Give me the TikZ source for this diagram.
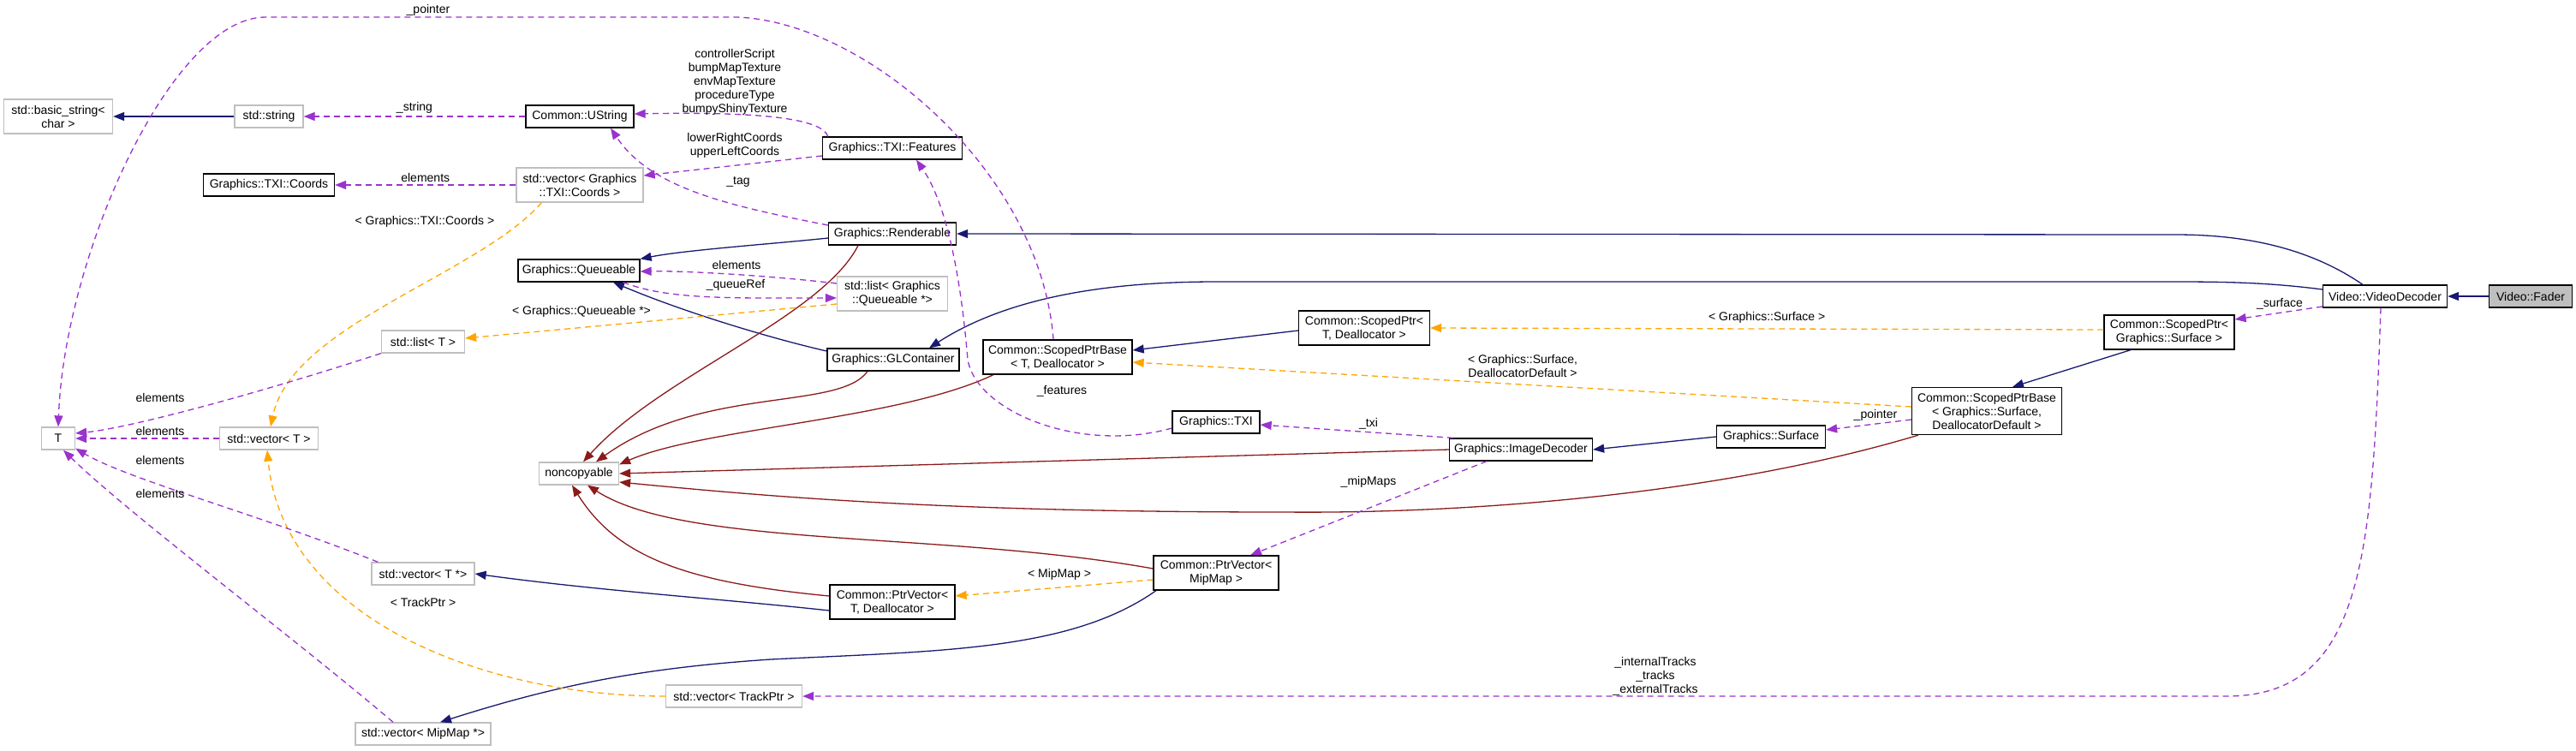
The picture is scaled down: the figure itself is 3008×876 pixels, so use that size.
\documentclass[tikz,border=0pt]{standalone}
\usepackage{fontspec}
\setmainfont{Liberation Sans}
\usetikzlibrary{arrows.meta,calc}
\definecolor{inhc}{HTML}{191970}
\definecolor{ncc}{HTML}{8B1A1A}
\definecolor{tmplc}{HTML}{FFA500}
\definecolor{usec}{HTML}{9A32CD}
\definecolor{grayb}{HTML}{BFBFBF}
\begin{document}
\begin{tikzpicture}[x=1pt,y=-1pt,
  every node/.style={font=\fontsize{14}{16}\selectfont},
  cls/.style={draw=black,line width=1.3pt,fill=white,inner sep=0pt,align=center,minimum height=26pt},
  ext/.style={draw=grayb,line width=1.3pt,fill=white,inner sep=0pt,align=center,minimum height=26pt},
  lbl/.style={inner sep=0pt,align=center},
  tip/.style={-{Triangle[length=13pt,width=10pt]}},
  inh/.style={tip,draw=inhc,line width=1.3pt},
  ncl/.style={tip,draw=ncc,line width=1.3pt},
  tmpl/.style={tip,draw=tmplc,line width=1.3pt,dash pattern=on 7pt off 5pt},
  use/.style={tip,draw=usec,line width=1.3pt,dash pattern=on 7pt off 5pt}]
\useasboundingbox (0,0) rectangle (3008,876);
% nodes
\node[ext,minimum width=127pt,minimum height=40pt] (bs) at (68,136) {std::basic\_string\textless\\char \textgreater};
\node[ext,minimum width=80pt] (str) at (314,136) {std::string};
\node[cls,minimum width=126pt] (us) at (677,136) {Common::UString};
\node[cls,minimum width=153pt] (co) at (314,216) {Graphics::TXI::Coords};
\node[ext,minimum width=148pt,minimum height=40pt] (vco) at (677,216) {std::vector\textless{} Graphics\\::TXI::Coords \textgreater};
\node[cls,minimum width=163pt] (feat) at (1042,173) {Graphics::TXI::Features};
\node[cls,minimum width=149pt] (ren) at (1042,273) {Graphics::Renderable};
\node[cls,minimum width=142pt] (q) at (676,316) {Graphics::Queueable};
\node[ext,minimum width=129pt,minimum height=40pt] (lq) at (1042,343) {std::list\textless{} Graphics\\::Queueable *\textgreater};
\node[ext,minimum width=97pt] (lt) at (494,399) {std::list\textless{} T \textgreater};
\node[cls,minimum width=154pt] (gl) at (1043,420) {Graphics::GLContainer};
\node[cls,minimum width=174pt,minimum height=40pt] (spb) at (1235,417) {Common::ScopedPtrBase\\\textless{} T, Deallocator \textgreater};
\node[cls,minimum width=153pt,minimum height=40pt] (sp) at (1593,383) {Common::ScopedPtr\textless\\T, Deallocator \textgreater};
\node[cls,minimum width=145pt] (vd) at (2785,346) {Video::VideoDecoder};
\node[cls,minimum width=97pt,fill=grayb] (fa) at (2955,346) {Video::Fader};
\node[cls,minimum width=152pt,minimum height=40pt] (sps) at (2533,388) {Common::ScopedPtr\textless\\Graphics::Surface \textgreater};
\node[cls,minimum width=175pt,minimum height=55pt] (spbs) at (2320,480) {Common::ScopedPtrBase\\\textless{} Graphics::Surface,\\DeallocatorDefault \textgreater};
\node[cls,minimum width=127pt] (surf) at (2068,510) {Graphics::Surface};
\node[ext,minimum width=39pt] (T) at (68,512) {T};
\node[ext,minimum width=115pt] (vt) at (314,512) {std::vector\textless{} T \textgreater};
\node[ext,minimum width=93pt] (nc) at (676,553) {noncopyable};
\node[cls,minimum width=102pt] (txi) at (1420,493) {Graphics::TXI};
\node[cls,minimum width=167pt] (id) at (1776,525) {Graphics::ImageDecoder};
\node[cls,minimum width=146pt,minimum height=40pt] (pvm) at (1420,669) {Common::PtrVector\textless\\MipMap \textgreater};
\node[cls,minimum width=146pt,minimum height=40pt] (pvt) at (1042,703) {Common::PtrVector\textless\\T, Deallocator \textgreater};
\node[ext,minimum width=120pt] (vtp) at (494,670) {std::vector\textless{} T *\textgreater};
\node[ext,minimum width=159pt] (vtr) at (857,813) {std::vector\textless{} TrackPtr \textgreater};
\node[ext,minimum width=158pt] (vmm) at (494,857) {std::vector\textless{} MipMap *\textgreater};
% inheritance
\draw[inh] (fa.west) -- (vd.east);
\draw[inh] ($(vd.north)+(-26,0)$) .. controls (2690,285) and (2610,274) .. (2540,274) -- (ren.east);
\draw[inh] ($(vd.west)+(0,-8)$) .. controls (2650,330) and (2600,329) .. (2540,329) -- (1420,329) .. controls (1300,329) and (1180,345) .. ($(gl.north)+(42,0)$);
\draw[inh] ($(ren.west)+(0,5)$) .. controls (900,285) and (800,292) .. (q.north east);
\draw[inh] ($(gl.west)+(0,-10)$) .. controls (900,395) and (800,365) .. ($(q.south)+(40,0)$);
\draw[inh] (str.west) -- (bs.east);
\draw[inh] ($(sp.west)+(0,3)$) -- ($(spb.east)+(0,-8)$);
\draw[inh] ($(sps.south)+(-45,0)$) -- ($(spbs.north)+(30,0)$);
\draw[inh] (surf.west) -- (id.east);
\draw[inh] ($(pvt.west)+(0,10)$) .. controls (850,700) and (700,690) .. (vtp.east);
\draw[inh] ($(pvm.south)+(-70,0)$) .. controls (1250,760) and (1100,760) .. (900,770) .. controls (750,780) and (650,800) .. ($(vmm.north)+(20,0)$);
% noncopyable
\draw[ncl] ($(ren.south)+(-40,0)$) .. controls (960,370) and (770,440) .. ($(nc.north)+(5,0)$);
\draw[ncl] ($(gl.south)+(-30,0)$) .. controls (980,480) and (820,450) .. ($(nc.north)+(20,0)$);
\draw[ncl] ($(spb.south)+(-75,0)$) .. controls (1050,490) and (820,500) .. ($(nc.north east)+(0,3)$);
\draw[ncl] (id.west) -- (nc.east);
\draw[ncl] ($(spbs.south)+(-80,0)$) .. controls (2000,580) and (1700,600) .. (1500,598) .. controls (1100,598) and (900,580) .. ($(nc.east)+(0,10)$);
\draw[ncl] ($(pvm.west)+(0,-5)$) .. controls (1100,620) and (800,640) .. ($(nc.south)+(10,0)$);
\draw[ncl] ($(pvt.west)+(0,-7)$) .. controls (800,680) and (720,650) .. ($(nc.south)+(-8,0)$);
% templates
\draw[tmpl] ($(sps.west)+(0,-3)$) -- (sp.east) node[lbl,pos=0.5,above=6pt] (l1) {\textless{} Graphics::Surface \textgreater};
\draw[tmpl] ($(spbs.west)+(0,-5)$) -- ($(spb.east)+(0,6)$);
\node[lbl] (l2) at (1778,427) {\textless{} Graphics::Surface,\\DeallocatorDefault \textgreater};
\draw[tmpl] ($(pvm.west)+(0,8)$) -- ($(pvt.east)+(0,-7)$);
\node[lbl] (l3) at (1237,671) {\textless{} MipMap \textgreater};
\draw[tmpl] ($(lq.west)+(0,12)$) -- ($(lt.east)+(0,-4)$);
\node[lbl] (l4) at (679,364) {\textless{} Graphics::Queueable *\textgreater};
\draw[tmpl] ($(vco.south west)+(30,0)$) .. controls (560,320) and (340,380) .. ($(vt.north)+(2,0)$);
\node[lbl] (l5) at (496,259) {\textless{} Graphics::TXI::Coords \textgreater};
\draw[tmpl] (vtr.west) .. controls (560,813) and (330,720) .. ($(vt.south)+(-2,0)$);
\node[lbl] (l6) at (494,703) {\textless{} TrackPtr \textgreater};
% usage
\draw[use] (us.west) -- (str.east) node[lbl,pos=0.5,above=3pt] {\_string};
\draw[use] ($(feat.north west)+(7,0)$) .. controls (960,140) and (900,130) .. ($(us.east)+(0,-3)$);
\node[lbl] (l7) at (858,96) {controllerScript\\bumpMapTexture\\envMapTexture\\procedureType\\bumpyShinyTexture};
\draw[use] ($(feat.west)+(0,9)$) -- ($(vco.east)+(0,-11)$);
\node[lbl] (l8) at (858,170) {lowerRightCoords\\upperLeftCoords};
\draw[use] (vco.west) -- (co.east) node[lbl,pos=0.5,above=3pt] {elements};
\draw[use] ($(ren.west)+(0,-10)$) .. controls (850,240) and (760,220) .. ($(us.south)+(36,0)$);
\node[lbl] (l9) at (862,212) {\_tag};
\draw[use] ($(lq.west)+(0,-12)$) .. controls (900,322) and (800,316) .. ($(q.east)+(0,1)$);
\node[lbl] (l10) at (860,309) {elements};
\draw[use] ($(q.south east)+(-20,0)$) .. controls (780,350) and (850,348) .. ($(lq.west)+(0,5)$);
\node[lbl] (l11) at (859,333) {\_queueRef};
\draw[use] ($(txi.west)+(0,7)$) .. controls (1260,530) and (1140,480) .. (1130,420) .. controls (1120,300) and (1100,230) .. ($(feat.south)+(28,0)$);
\node[lbl] (l12) at (1240,457) {\_features};
\draw[use] ($(id.north west)+(5,0)$) -- ($(txi.east)+(0,3)$);
\node[lbl] (l13) at (1598,495) {\_txi};
\draw[use] ($(id.south)+(-40,0)$) -- ($(pvm.north)+(40,0)$);
\node[lbl] (l14) at (1598,563) {\_mipMaps};
\draw[use] ($(spbs.west)+(0,10)$) -- ($(surf.east)+(0,-8)$);
\node[lbl] (l15) at (2190,485) {\_pointer};
\draw[use] ($(vd.west)+(0,12)$) -- ($(sps.east)+(0,-15)$);
\node[lbl] (l16) at (2662,355) {\_surface};
\draw[use] ($(vd.south)+(-5,0)$) .. controls (2770,650) and (2760,813) .. (2600,813) -- (vtr.east);
\node[lbl] (l17) at (1933,790) {\_internalTracks\\\_tracks\\\_externalTracks};
\draw[use] ($(spb.north)+(-5,0)$) .. controls (1215,200) and (1010,25) .. (860,20) -- (310,20) .. controls (200,20) and (75,300) .. (T.north);
\node[lbl] (l18) at (500,12) {\_pointer};
\draw[use] (lt.south west) .. controls (300,460) and (150,500) .. ($(T.east)+(0,-6)$);
\node[lbl] (l19) at (187,464) {elements};
\draw[use] (vt.west) -- (T.east);
\node[lbl] (l20) at (187,503) {elements};
\draw[use] ($(vtp.north west)+(8,0)$) .. controls (300,600) and (150,560) .. ($(T.south east)+(0,-2)$);
\node[lbl] (l21) at (187,537) {elements};
\draw[use] ($(vmm.north)+(-35,0)$) .. controls (350,750) and (150,600) .. ($(T.south)+(6,0)$);
\node[lbl] (l22) at (187,576) {elements};
\end{tikzpicture}
\end{document}
